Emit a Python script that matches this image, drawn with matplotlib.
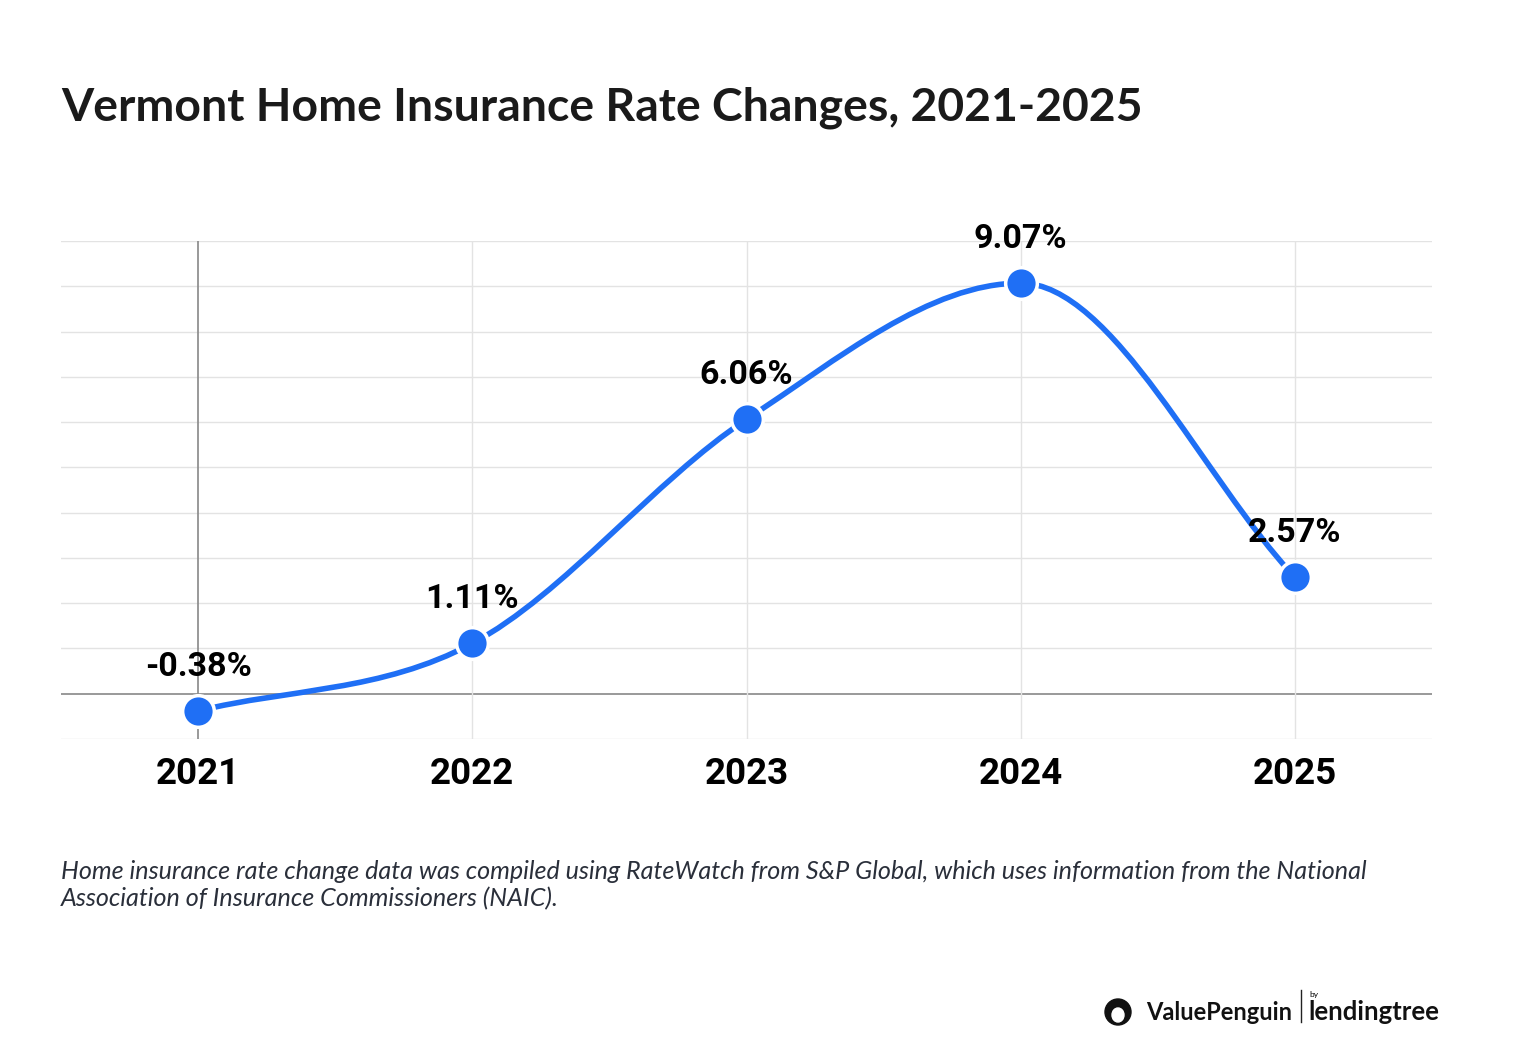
import numpy as np
import matplotlib.pyplot as plt
from matplotlib.path import Path
from matplotlib.patches import PathPatch, Ellipse

years = ["2021", "2022", "2023", "2024", "2025"]
rates = [-0.38, 1.11, 6.06, 9.07, 2.57]
labels = ["-0.38%", "1.11%", "6.06%", "9.07%", "2.57%"]

BLUE = "#1f6ff5"

fig = plt.figure(figsize=(15.2, 10.44), dpi=100)
ax = fig.add_axes([61 / 1520, 1 - 739 / 1044, 1371 / 1520, 498 / 1044])
x = np.arange(len(years))
ax.set_xlim(-0.5, 4.5)
ax.set_ylim(-1, 10)

for v in range(-1, 11):
    ax.axhline(v, color="#888888" if v == 0 else "#e3e3e3", lw=1.2 if v == 0 else 1, zorder=0)
for i in x:
    ax.axvline(i, color="#888888" if i == 0 else "#e3e3e3", lw=1.2 if i == 0 else 1, zorder=0)

# smooth spline through the points (bezier); flatten tangents at local extrema
y = np.array(rates)
n = len(x)
slopes = []
for i in range(n):
    a, b = max(i - 1, 0), min(i + 1, n - 1)
    m = (y[b] - y[a]) / (x[b] - x[a])
    if 0 < i < n - 1 and (y[i] - y[i - 1]) * (y[i + 1] - y[i]) < 0:
        m = 0.0
    slopes.append(m)
verts = [(x[0], y[0])]
codes = [Path.MOVETO]
for i in range(n - 1):
    d = (x[i + 1] - x[i]) / 3.0
    verts += [(x[i] + d, y[i] + slopes[i] * d), (x[i + 1] - d, y[i + 1] - slopes[i + 1] * d), (x[i + 1], y[i + 1])]
    codes += [Path.CURVE4] * 3
ax.add_patch(PathPatch(Path(verts, codes), fill=False, edgecolor=BLUE, lw=4, zorder=2))
ax.scatter(x, y, s=520, color=BLUE, edgecolor="white", linewidth=2.5, zorder=3)

for xi, yi, lab in zip(x, y, labels):
    ax.text(xi, yi + 0.62, lab, ha="center", va="bottom", fontsize=24.5,
            fontweight="bold", family="Roboto", zorder=4)

ax.set_xticks(x)
ax.set_xticklabels(years, fontsize=26.5, fontweight="bold", family="Roboto")
ax.tick_params(axis="x", length=0, pad=12)
ax.set_yticks([])
for sp in ax.spines.values():
    sp.set_visible(False)

fig.text(61 / 1520, 1 - 108 / 1044, "Vermont Home Insurance Rate Changes, 2021-2025",
         fontsize=33.4, fontweight="bold", family="Lato", va="center", color="#1a1a1a")
fig.text(61 / 1520, 1 - 885 / 1044,
         "Home insurance rate change data was compiled using RateWatch from S&P Global, which uses information from the National\n"
         "Association of Insurance Commissioners (NAIC).",
         fontsize=18.1, style="italic", family="Lato", va="center", color="#2a2f3a", linespacing=1.2)

fig.text(1292 / 1520, 1 - 1012 / 1044, "ValuePenguin", fontsize=17, fontweight="bold",
         family="Lato", ha="right", va="center", color="#111111")
fig.text(1308 / 1520, 1 - 1012 / 1044, "lendingtree", fontsize=18.5, fontweight="bold",
         family="Lato", ha="left", va="center", color="#111111")
fig.text(1309 / 1520, 1 - 994 / 1044, "by", fontsize=6, family="Lato", ha="left", va="center")
fig.add_artist(plt.Line2D([1301 / 1520, 1301 / 1520], [1 - 990 / 1044, 1 - 1022 / 1044], color="#222222", lw=1))
fig.add_artist(Ellipse((1118 / 1520, 1 - 1012 / 1044), 26 / 1520, 26 / 1044, color="#111111",
                       transform=fig.transFigure))
fig.add_artist(Ellipse((1118 / 1520, 1 - 1015 / 1044), 12 / 1520, 14 / 1044, color="white",
                       transform=fig.transFigure))

fig.savefig("out.png", dpi=100)
